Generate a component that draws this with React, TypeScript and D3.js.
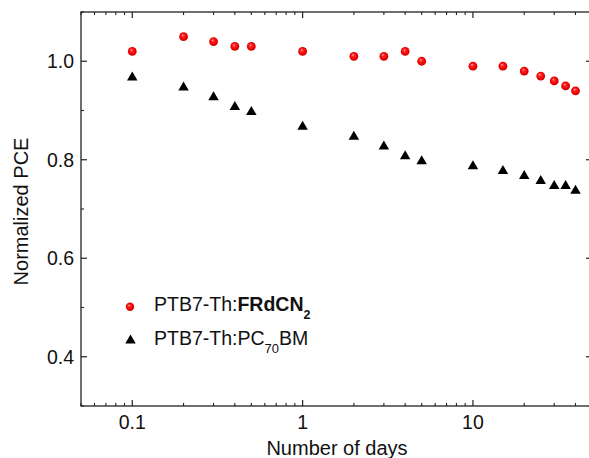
import React from "react";
import * as d3 from "d3";

const days = [0.1, 0.2, 0.3, 0.4, 0.5, 1, 2, 3, 4, 5, 10, 15, 20, 25, 30, 35, 40];
const frdcn2 = [1.02, 1.05, 1.04, 1.03, 1.03, 1.02, 1.01, 1.01, 1.02, 1.0, 0.99, 0.99, 0.98, 0.97, 0.96, 0.95, 0.94];
const pc70bm = [0.97, 0.95, 0.93, 0.91, 0.9, 0.87, 0.85, 0.83, 0.81, 0.8, 0.79, 0.78, 0.77, 0.76, 0.75, 0.75, 0.74];
const xMajorTicks = [0.1, 1, 10];
const xTickLabels = ["0.1", "1", "10"];
const yMajorTicks = [0.4, 0.6, 0.8, 1.0];
const yTickLabels = ["0.4", "0.6", "0.8", "1.0"];
const yMinorTicks = [0.3, 0.5, 0.7, 0.9, 1.1];
const xDomain = [0.05, 50];
const yDomain = [0.3, 1.1];

const W = 589;
const H = 458;
const FONT = "'Liberation Sans', Arial, sans-serif";

export default function App() {
  const x = d3.scaleLog().domain(xDomain).range([81, 592]);
  const y = d3.scaleLinear().domain(yDomain).range([406, 12]);
  const [x0, x1] = x.range();
  const [yb, yt] = y.range();

  const xMinor: number[] = [];
  for (let e = -2; e <= 1; e++) {
    for (let m = 2; m <= 9; m++) {
      const v = m * Math.pow(10, e);
      if (v >= xDomain[0] - 1e-9 && v <= xDomain[1] + 1e-9) xMinor.push(v);
    }
  }

  const tri = d3.symbol().type(d3.symbolTriangle);
  const triPath = (cx: number, cy: number) => {
    const w = 10.5, h = 9;
    return `M${cx},${cy - h / 2}L${cx + w / 2},${cy + h / 2}L${cx - w / 2},${cy + h / 2}Z`;
  };
  void tri;

  const major = 6;
  const minor = 3;
  const fs = 19.5;

  return (
    <svg
      width={W}
      height={H}
      style={{ position: "absolute", left: 0, top: 0, overflow: "hidden", background: "#fff" }}
      fontFamily={FONT}
    >
      <defs>
        <radialGradient id="ball" cx="50%" cy="50%" r="55%" fx="38%" fy="32%">
          <stop offset="0%" stopColor="#ffe0e0" />
          <stop offset="22%" stopColor="#ff3030" />
          <stop offset="70%" stopColor="#f00000" />
          <stop offset="100%" stopColor="#c00000" />
        </radialGradient>
      </defs>
      <rect x={0} y={0} width={W} height={H} fill="#fff" />

      {/* frame */}
      <rect x={x0} y={yt} width={x1 - x0} height={yb - yt} fill="none" stroke="#222" strokeWidth={1.3} />

      {/* x ticks bottom & top (inward) */}
      {xMajorTicks.map((t) => (
        <g key={"xm" + t}>
          <line x1={x(t)} x2={x(t)} y1={yb} y2={yb - major} stroke="#222" strokeWidth={1.2} />
          <line x1={x(t)} x2={x(t)} y1={yt} y2={yt + major} stroke="#222" strokeWidth={1.2} />
        </g>
      ))}
      {xMinor.map((t) => (
        <g key={"xn" + t}>
          <line x1={x(t)} x2={x(t)} y1={yb} y2={yb - minor} stroke="#222" strokeWidth={1.1} />
          <line x1={x(t)} x2={x(t)} y1={yt} y2={yt + minor} stroke="#222" strokeWidth={1.1} />
        </g>
      ))}
      {/* y ticks left & right (inward) */}
      {yMajorTicks.map((t) => (
        <g key={"ym" + t}>
          <line x1={x0} x2={x0 + major} y1={y(t)} y2={y(t)} stroke="#222" strokeWidth={1.2} />
          <line x1={x1} x2={x1 - major} y1={y(t)} y2={y(t)} stroke="#222" strokeWidth={1.2} />
        </g>
      ))}
      {yMinorTicks.map((t) => (
        <g key={"yn" + t}>
          <line x1={x0} x2={x0 + minor} y1={y(t)} y2={y(t)} stroke="#222" strokeWidth={1.1} />
          <line x1={x1} x2={x1 - minor} y1={y(t)} y2={y(t)} stroke="#222" strokeWidth={1.1} />
        </g>
      ))}

      {/* tick labels */}
      {xMajorTicks.map((t, i) => (
        <text key={"xl" + t} x={x(t)} y={428.5} textAnchor="middle" fontSize={fs} fill="#111">
          {xTickLabels[i]}
        </text>
      ))}
      {yMajorTicks.map((t, i) => (
        <text key={"yl" + t} x={74} y={y(t) + 6.8} textAnchor="end" fontSize={fs} fill="#111">
          {yTickLabels[i]}
        </text>
      ))}

      {/* axis titles */}
      <text x={337} y={454.5} textAnchor="middle" fontSize={20} fill="#111">
        Number of days
      </text>
      <text
        transform={`translate(28.3, 211.5) rotate(-90)`}
        textAnchor="middle"
        fontSize={20}
        fill="#111"
      >
        Normalized PCE
      </text>

      {/* data */}
      {days.map((d, i) => (
        <path key={"t" + i} d={triPath(x(d), y(pc70bm[i]))} fill="#000" />
      ))}
      {days.map((d, i) => (
        <circle key={"c" + i} cx={x(d)} cy={y(frdcn2[i])} r={4.4} fill="url(#ball)" />
      ))}

      {/* legend */}
      <circle cx={130} cy={306.7} r={4.2} fill="url(#ball)" />
      <text x={154} y={310.8} fontSize={fs} fill="#111">
        PTB7-Th:<tspan fontWeight="bold">FRdCN</tspan>
        <tspan fontWeight="bold" fontSize={12.5} dy={8.5}>2</tspan>
      </text>
      <path d={triPath(130.5, 339)} fill="#000" />
      <text x={154} y={345} fontSize={fs} fill="#111">
        PTB7-Th:PC<tspan fontSize={13} dy={8.3}>70</tspan>
        <tspan dy={-8.3}>BM</tspan>
      </text>
    </svg>
  );
}
